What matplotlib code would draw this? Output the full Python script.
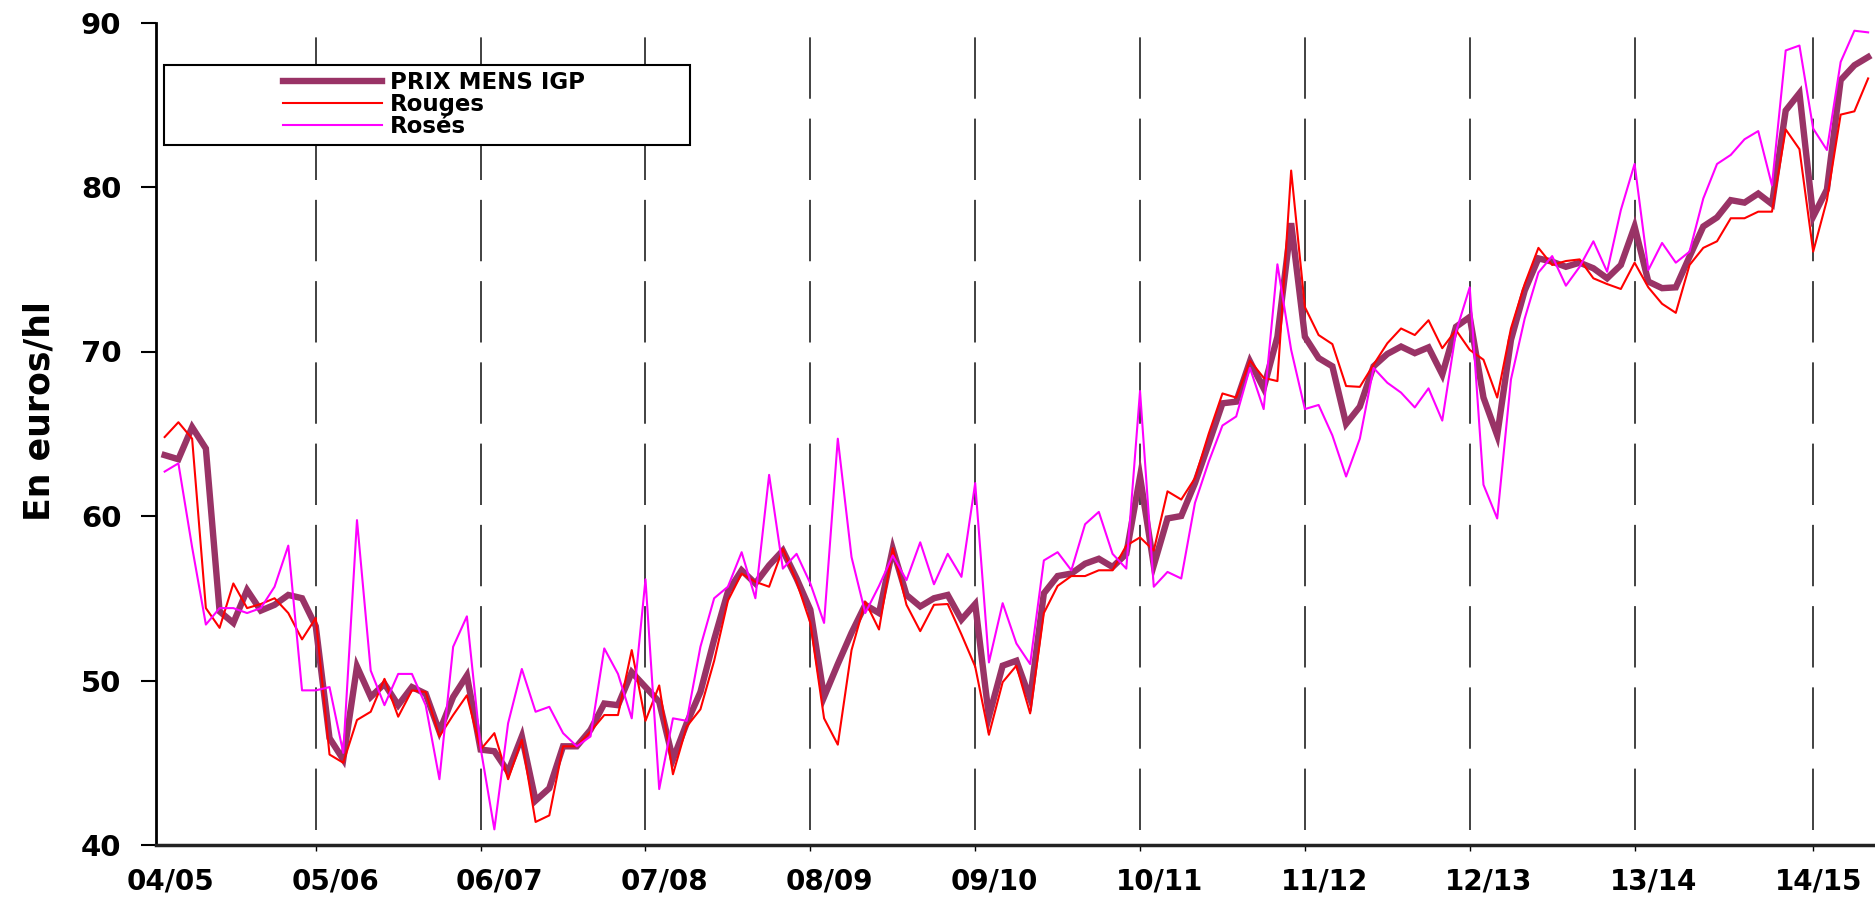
import matplotlib
matplotlib.use("Agg")
import matplotlib.pyplot as plt
from matplotlib.patches import Rectangle

# monthly prices, campaigns 04/05 .. 14/15 (euros/hl)
prix_igp = [63.7, 63.45, 65.4, 64.1, 54.2, 53.5, 55.5, 54.25, 54.6, 55.2, 55.0, 53.3,
            46.5, 45.2, 50.85, 49.0, 49.8, 48.5, 49.6, 49.2, 46.9, 49.0, 50.3, 45.8,
            45.7, 44.45, 46.6, 42.7, 43.45, 46.0, 46.0, 47.0, 48.6, 48.5, 50.5, 49.6,
            48.7, 45.2, 47.4, 49.3, 52.5, 55.4, 56.7, 55.9, 57.0, 57.9, 56.2, 54.3,
            49.0, 51.0, 52.9, 54.6, 54.1, 58.0, 55.2, 54.5, 55.0, 55.2, 53.7, 54.65,
            47.8, 50.9, 51.2, 48.9, 55.3, 56.35, 56.5, 57.1, 57.4, 56.9, 57.7, 62.4,
            57.0, 59.85, 60.0, 62.0, 64.4, 66.85, 66.95, 69.4, 67.76, 70.9, 77.8, 70.9,
            69.6, 69.1, 65.6, 66.65, 69.1, 69.85, 70.3, 69.9, 70.25, 68.6, 71.5, 72.1,
            67.2, 64.9, 70.7, 73.7, 75.66, 75.46, 75.15, 75.4, 75.06, 74.45, 75.26, 77.6,
            74.25, 73.85, 73.9, 75.77, 77.6, 78.15, 79.2, 79.05, 79.6, 78.96, 84.65, 85.7,
            78.2, 79.85, 86.5, 87.4, 87.9]

rouges = [64.8, 65.7, 64.7, 54.4, 53.2, 55.9, 54.4, 54.65, 55.0, 54.1, 52.5, 53.8,
          45.5, 45.0, 47.6, 48.1, 50.1, 47.8, 49.4, 49.3, 46.6, 47.9, 49.1, 45.8,
          46.8, 44.0, 46.4, 41.4, 41.8, 46.0, 46.0, 46.9, 47.9, 47.9, 51.85, 47.55,
          49.7, 44.3, 47.2, 48.25, 51.2, 54.85, 56.5, 56.0, 55.7, 58.0, 56.0, 53.5,
          47.7, 46.1, 51.85, 54.8, 53.1, 58.05, 54.6, 53.0, 54.6, 54.65, 52.8, 50.85,
          46.7, 49.9, 50.9, 48.0, 54.1, 55.75, 56.35, 56.35, 56.7, 56.7, 58.2, 58.7,
          57.9, 61.5, 61.0, 62.3, 65.0, 67.45, 67.2, 69.45, 68.4, 68.2, 81.0, 72.7,
          71.0, 70.45, 67.9, 67.85, 69.2, 70.5, 71.4, 71.0, 71.9, 70.2, 71.3, 70.1,
          69.5, 67.2, 71.4, 74.1, 76.3, 75.26, 75.5, 75.6, 74.45, 74.1, 73.8, 75.4,
          73.9, 72.9, 72.35, 75.26, 76.3, 76.7, 78.1, 78.1, 78.5, 78.5, 83.5, 82.3,
          76.07, 79.2, 84.4, 84.6, 86.6]

roses = [62.7, 63.2, 58.1, 53.4, 54.4, 54.4, 54.1, 54.4, 55.7, 58.2, 49.4, 49.4,
         49.6, 45.6, 59.75, 50.6, 48.5, 50.4, 50.4, 48.5, 44.0, 52.05, 53.9, 45.9,
         40.95, 47.4, 50.7, 48.1, 48.4, 46.8, 46.0, 46.6, 51.95, 50.4, 47.7, 56.15,
         43.4, 47.7, 47.55, 52.05, 55.0, 55.7, 57.8, 55.0, 62.5, 56.8, 57.7, 55.9,
         53.5, 64.7, 57.5, 54.1, 55.75, 57.6, 56.1, 58.4, 55.85, 57.7, 56.3, 62.0,
         51.1, 54.7, 52.25, 51.0, 57.3, 57.8, 56.7, 59.5, 60.25, 57.7, 56.8, 67.6,
         55.7, 56.6, 56.2, 60.8, 63.3, 65.5, 66.05, 69.0, 66.5, 75.3, 70.1, 66.5,
         66.75, 64.9, 62.4, 64.7, 69.0, 68.1, 67.5, 66.6, 67.76, 65.8, 71.2, 73.9,
         61.9, 59.85, 68.3, 72.0, 74.8, 75.8, 74.0, 75.15, 76.7, 74.85, 78.6, 81.4,
         74.95, 76.6, 75.4, 76.07, 79.3, 81.4, 81.95, 82.9, 83.4, 80.1, 88.3, 88.6,
         83.55, 82.25, 87.6, 89.5, 89.4]

campagnes = ["04/05", "05/06", "06/07", "07/08", "08/09", "09/10",
             "10/11", "11/12", "12/13", "13/14", "14/15"]
# month index where each campaign label sits, and the month of each separator
debut = [0, 12, 24, 36, 48, 60, 72, 84, 96, 108, 120]
separateurs = [11, 23, 35, 47, 59, 71, 83, 95, 107, 120]

months = list(range(len(prix_igp)))

plt.rcParams['font.family'] = ['DejaVu Sans']
plt.rcParams['font.weight'] = 'bold'

W, H = 1875, 901
fig = plt.figure(figsize=(W / 100, H / 100), dpi=100)
ax = fig.add_axes([156 / W, 56 / H, (W - 156) / W, (845 - 22.5) / H])

# campaign separators
ax.vlines(separateurs, 40.9, 90, colors='#333333', linewidth=1.3,
          linestyles=(0, (34, 11)), zorder=1)

l1, = ax.plot(months, prix_igp, color='#993366', linewidth=4.6,
              solid_joinstyle='miter', zorder=2)
l2, = ax.plot(months, rouges, color='#ff0000', linewidth=1.5, zorder=3)
l3, = ax.plot(months, roses, color='#ff00ff', linewidth=1.5, zorder=4)

ax.set_xlim(-0.63, 124.5)
ax.set_ylim(40, 90)
ax.set_yticks(range(40, 91, 10))

ax.set_xticks([d + 0.4 for d in debut])
ax.set_xticklabels(campagnes)
ax.set_xticks(separateurs, minor=True)
ax.tick_params(axis='x', which='major', length=0, pad=16, labelsize=20)
ax.tick_params(axis='x', which='minor', length=4, width=1, direction='out')
ax.tick_params(axis='y', length=11, width=1.5, direction='out', pad=14,
               labelsize=21)

for s in ['top', 'right']:
    ax.spines[s].set_visible(False)
ax.spines['left'].set_linewidth(2)
ax.spines['bottom'].set_linewidth(2.5)
ax.spines['bottom'].set_color('#222222')

ax.set_ylabel("En euros/hl", fontsize=25, fontweight='bold')
ax.yaxis.set_label_coords(-0.058, 0.528)

# legend box
box = Rectangle((164 / W, 1 - 145 / H), (690 - 164) / W, (145 - 65) / H,
                transform=fig.transFigure, facecolor='white', edgecolor='black',
                linewidth=1.5, zorder=5, clip_on=False)
ax.add_patch(box)
leg = ax.legend([l1, l2, l3], ["PRIX MENS IGP", "Rouges", "Rosés"],
                loc='upper left', bbox_to_anchor=(283 / W, 1 - 71 / H),
                bbox_transform=fig.transFigure, frameon=False, fontsize=16.5,
                handlelength=4.3, handletextpad=0.35, labelspacing=-0.05,
                borderpad=0, borderaxespad=0)
leg.set_zorder(6)
for t in leg.get_texts():
    t.set_fontweight('bold')

fig.savefig("out.png", dpi=100)
